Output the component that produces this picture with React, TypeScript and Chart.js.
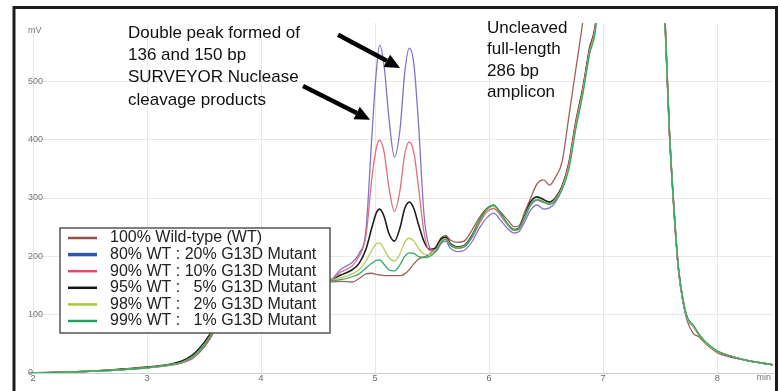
import React, { useEffect, useRef } from "react";
import { Chart, registerables } from "chart.js";

Chart.register(...registerables);

// retention time (min)
const timeMin = [
  1.96, 2.2, 2.5, 2.8, 3.0, 3.2, 3.3, 3.4, 3.5, 3.55,
  3.6, 3.7, 3.8, 3.9, 4.0, 4.1, 4.2, 4.4, 4.6, 4.7,
  4.8, 4.86, 4.92, 4.97, 5.01, 5.04, 5.08, 5.12, 5.17, 5.22,
  5.26, 5.3, 5.34, 5.38, 5.43, 5.48, 5.53, 5.58, 5.62, 5.66,
  5.72, 5.78, 5.85, 5.92, 5.98, 6.04, 6.1, 6.16, 6.22, 6.26,
  6.31, 6.36, 6.42, 6.48, 6.53, 6.58, 6.64, 6.7, 6.76, 6.82,
  6.88, 6.94, 7.0, 7.5, 7.54, 7.58, 7.62, 7.66, 7.7, 7.74,
  7.79, 7.84, 7.9, 8.0, 8.1, 8.25, 8.49,
];

// signal (mV)
const wt100 = [
  0, 1, 3, 6, 9, 13, 17, 25, 44, 58,
  75, 98, 118, 132, 140, 146, 149, 153, 156, 157,
  156, 162, 170, 171, 169, 168, 167, 167, 167, 167,
  170, 177, 187, 195, 199, 204, 216, 232, 236, 228,
  224, 226, 245, 268, 282, 286, 276, 263, 251, 252,
  275, 298, 324, 331, 322, 335, 362, 440, 520, 600,
  700, 800, 800, 800, 620, 420, 285, 178, 122, 88,
  68, 62, 50, 35, 28, 22, 14,
];
const wt80 = [
  0, 1, 3, 6, 9, 14, 18, 28, 48, 62,
  78, 100, 120, 134, 142, 147, 150, 154, 158, 178,
  190, 205, 245, 400, 515, 562, 525, 440, 370, 420,
  515, 557, 530, 430, 270, 215, 208, 222, 226, 214,
  208, 210, 225, 250, 266, 274, 262, 248, 240, 242,
  258, 278, 288, 281, 283, 292, 316, 355, 425, 480,
  548, 605, 800, 800, 620, 420, 285, 180, 125, 93,
  80, 66, 52, 37, 30, 22, 14,
];
const wt90 = [
  0, 1, 3, 6, 9, 14, 18, 28, 48, 62,
  78, 100, 120, 134, 142, 147, 150, 154, 158, 173,
  184, 200, 235, 330, 385, 399, 378, 320, 277, 315,
  375, 396, 378, 320, 240, 210, 210, 226, 230, 220,
  214, 216, 232, 258, 276, 282, 270, 254, 244, 246,
  264, 286, 296, 292, 290, 298, 318, 358, 428, 483,
  552, 608, 800, 800, 620, 420, 285, 180, 125, 93,
  80, 66, 52, 37, 30, 22, 14,
];
const wt95 = [
  0, 1, 3, 7, 10, 15, 20, 31, 52, 66,
  80, 102, 122, 135, 143, 148, 151, 155, 159, 168,
  177, 188, 212, 248, 274, 281, 268, 240, 226, 250,
  282, 293, 282, 255, 225, 212, 214, 230, 233, 222,
  216, 218, 236, 263, 281, 287, 273, 256, 246, 248,
  268, 292, 302, 297, 293, 300, 320, 360, 430, 486,
  555, 610, 800, 800, 620, 420, 285, 180, 125, 93,
  81, 66, 52, 37, 30, 22, 14,
];
const wt98 = [
  0, 1, 3, 6, 9, 14, 18, 28, 48, 62,
  78, 100, 120, 134, 142, 147, 150, 154, 158, 163,
  170, 177, 192, 210, 221, 223, 212, 198, 192, 205,
  224, 231, 226, 214, 204, 203, 210, 226, 230, 220,
  215, 217, 234, 262, 280, 286, 272, 255, 245, 247,
  266, 288, 298, 294, 290, 296, 316, 352, 420, 478,
  548, 602, 800, 800, 620, 420, 285, 180, 125, 93,
  80, 66, 52, 37, 30, 22, 14,
];
const wt99 = [
  0, 1, 3, 6, 9, 14, 18, 28, 48, 62,
  78, 100, 120, 134, 142, 147, 150, 154, 158, 160,
  165, 170, 180, 188, 193, 194, 186, 177, 175, 186,
  200, 206, 205, 200, 198, 200, 208, 224, 229, 219,
  214, 216, 233, 262, 281, 288, 273, 256, 245, 247,
  265, 287, 297, 293, 289, 295, 314, 350, 418, 476,
  546, 600, 800, 800, 620, 420, 285, 182, 127, 95,
  82, 67, 53, 38, 30, 22, 14,
];

const seriesLabels = [
  "100% Wild-type (WT)",
  "80% WT : 20% G13D Mutant",
  "90% WT : 10% G13D Mutant",
  "95% WT :   5% G13D Mutant",
  "98% WT :   2% G13D Mutant",
  "99% WT :   1% G13D Mutant",
];
const seriesValues = [wt100, wt80, wt90, wt95, wt98, wt99];
const lineColors = ["#a0605a", "#8474c8", "#e0707e", "#1e1e1e", "#b4d058", "#34a868"];
const legendColors = ["#94504e", "#2f55a8", "#e04a70", "#151515", "#a6c832", "#22a460"];

const xTicks = [2, 3, 4, 5, 6, 7, 8];
const yTicks = [0, 100, 200, 300, 400, 500];

const noteLeft = ["Double peak formed of", "136 and 150 bp", "SURVEYOR Nuclease", "cleavage products"];
const noteRight = ["Uncleaved", "full-length", "286 bp", "amplicon"];
const noteLeftAt = { x: 2.833, y: 583 };
const noteRightAt = { x: 5.982, y: 591 };
const arrows = [
  { from: { x: 4.675, y: 580 }, to: { x: 5.219, y: 523 } },
  { from: { x: 4.368, y: 492 }, to: { x: 4.956, y: 434 } },
];

const FONT = "'Liberation Sans', Arial, sans-serif";

const overlayPlugin = {
  id: "overlay",
  afterDraw(chart: any) {
    const ctx = chart.ctx;
    const xs = chart.scales.x;
    const ys = chart.scales.y;
    const area = chart.chartArea;
    ctx.save();

    // axis unit labels
    ctx.fillStyle = "#777";
    ctx.font = `9px ${FONT}`;
    ctx.textBaseline = "middle";
    ctx.textAlign = "left";
    ctx.fillText("mV", area.left, area.top + 8);
    ctx.textAlign = "right";
    ctx.fillText("min", area.right - 2, area.bottom + 5);

    // annotations
    ctx.fillStyle = "#111";
    ctx.font = `17px ${FONT}`;
    ctx.textAlign = "left";
    ctx.textBaseline = "middle";
    const lx = xs.getPixelForValue(noteLeftAt.x);
    const ly = ys.getPixelForValue(noteLeftAt.y);
    noteLeft.forEach((t, i) => ctx.fillText(t, lx, ly + i * 22.4));
    const rx = xs.getPixelForValue(noteRightAt.x);
    const ry = ys.getPixelForValue(noteRightAt.y);
    noteRight.forEach((t, i) => ctx.fillText(t, rx, ry + i * 21.4));

    // arrows
    arrows.forEach((a) => {
      const x1 = xs.getPixelForValue(a.from.x);
      const y1 = ys.getPixelForValue(a.from.y);
      const x2 = xs.getPixelForValue(a.to.x);
      const y2 = ys.getPixelForValue(a.to.y);
      const ang = Math.atan2(y2 - y1, x2 - x1);
      const head = 15;
      const half = 7;
      const bx = x2 - head * Math.cos(ang);
      const by = y2 - head * Math.sin(ang);
      ctx.strokeStyle = "#000";
      ctx.lineWidth = 4.5;
      ctx.lineCap = "butt";
      ctx.beginPath();
      ctx.moveTo(x1, y1);
      ctx.lineTo(bx, by);
      ctx.stroke();
      ctx.fillStyle = "#000";
      ctx.beginPath();
      ctx.moveTo(x2, y2);
      ctx.lineTo(bx + half * Math.sin(ang), by - half * Math.cos(ang));
      ctx.lineTo(bx - half * Math.sin(ang), by + half * Math.cos(ang));
      ctx.closePath();
      ctx.fill();
    });

    // legend box
    const bx0 = 60, by0 = 228, bw = 270, bh = 105;
    ctx.fillStyle = "#fff";
    ctx.fillRect(bx0, by0, bw, bh);
    ctx.strokeStyle = "#555";
    ctx.lineWidth = 1.5;
    ctx.strokeRect(bx0, by0, bw, bh);
    ctx.font = `16px ${FONT}`;
    ctx.textAlign = "left";
    ctx.textBaseline = "middle";
    seriesLabels.forEach((lab, i) => {
      const yy = by0 + 10 + i * 16.6;
      ctx.strokeStyle = legendColors[i];
      ctx.lineWidth = i === 1 ? 3.5 : 2.5;
      ctx.beginPath();
      ctx.moveTo(bx0 + 8, yy);
      ctx.lineTo(bx0 + 37, yy);
      ctx.stroke();
      ctx.fillStyle = "#222";
      ctx.fillText(lab, bx0 + 50, yy);
    });

    // outer frame
    ctx.strokeStyle = "#1c1c1c";
    ctx.lineWidth = 3;
    ctx.strokeRect(14, 7.5, 762.5, 420);
    ctx.restore();
  },
};

export default function App() {
  const ref = useRef<HTMLCanvasElement | null>(null);
  useEffect(() => {
    if (!ref.current) return;
    const datasets = seriesValues.map((vals, i) => ({
      label: seriesLabels[i],
      data: timeMin.map((t, j) => ({ x: t, y: vals[j] })),
      borderColor: lineColors[i],
      borderWidth: i === 3 ? 1.6 : 1.3,
      pointRadius: 0,
      fill: false,
      cubicInterpolationMode: "monotone" as const,
    }));
    // draw order: green underneath, brown on top similar to reference
    const ordered = [datasets[5], datasets[4], datasets[2], datasets[1], datasets[3], datasets[0]];
    const chart = new Chart(ref.current, {
      type: "line",
      data: { datasets: ordered },
      options: {
        animation: false,
        responsive: false,
        devicePixelRatio: 1,
        layout: { padding: { left: 28, right: 7, top: 23, bottom: 0 } },
        plugins: { legend: { display: false }, tooltip: { enabled: false } },
        scales: {
          x: {
            type: "linear",
            min: 1.956,
            max: 8.49,
            afterBuildTicks: (s: any) => {
              s.ticks = xTicks.map((v) => ({ value: v }));
            },
            afterFit: (s: any) => {
              s.height = 18;
            },
            grid: { color: "#e9e9e9", drawTicks: false },
            border: { color: "#cfcfcf" },
            ticks: {
              font: { size: 9, family: FONT },
              color: "#666",
              padding: 0,
              maxRotation: 0,
              autoSkip: false,
            },
          },
          y: {
            min: 0,
            max: 600,
            afterBuildTicks: (s: any) => {
              s.ticks = yTicks.map((v) => ({ value: v }));
            },
            afterFit: (s: any) => {
              s.width = 0;
            },
            grid: { color: "#e9e9e9", drawTicks: false },
            border: { display: false },
            ticks: {
              mirror: true,
              padding: 0,
              font: { size: 9, family: FONT },
              color: "#777",
            },
          },
        },
      },
      plugins: [overlayPlugin],
    });
    return () => chart.destroy();
  }, []);
  return (
    <div style={{ position: "absolute", left: 0, top: 0, width: 780, height: 391, background: "#fff" }}>
      <canvas ref={ref} width={780} height={391} style={{ width: 780, height: 391 }} />
    </div>
  );
}
